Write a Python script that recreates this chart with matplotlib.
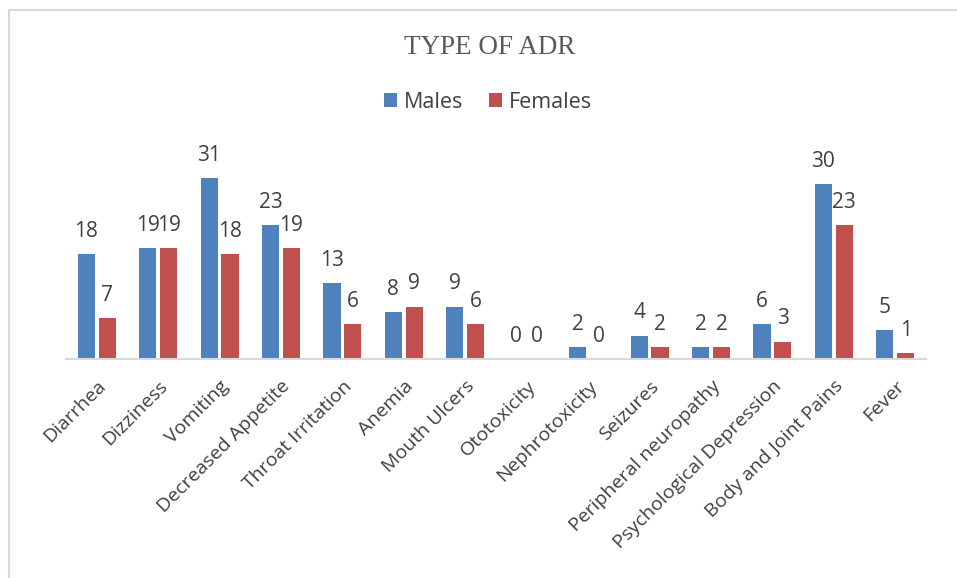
import matplotlib.pyplot as plt
import numpy as np
from matplotlib.lines import Line2D

categories = ["Diarrhea", "Dizziness", "Vomiting", "Decreased Appetite", "Throat Irritation",
              "Anemia", "Mouth Ulcers", "Ototoxicity", "Nephrotoxicity", "Seizures",
              "Peripheral neuropathy", "Psychological Depression", "Body and Joint Pains", "Fever"]
males = [18, 19, 31, 23, 13, 8, 9, 0, 2, 4, 2, 6, 30, 5]
females = [7, 19, 18, 19, 6, 9, 6, 0, 0, 2, 2, 3, 23, 1]

blue = "#4F81BD"
red = "#C0504D"
txt = "#404040"
font = ["Open Sans", "DejaVu Sans"]

fig = plt.figure(figsize=(9.57, 5.78), dpi=100)
ax = fig.add_axes([66/957, 1-359/578, 860/957, 204/578])

x = np.arange(len(categories))
w = 0.28
off = 0.17
b1 = ax.bar(x - off, males, w, color=blue, label="Males")
b2 = ax.bar(x + off, females, w, color=red, label="Females")

for rects, vals in ((b1, males), (b2, females)):
    for r, v in zip(rects, vals):
        ax.text(r.get_x() + r.get_width()/2, v + 2.1, str(v), ha="center", va="bottom",
                fontsize=15, color=txt, family=font)

ax.set_xlim(-0.5, len(categories) - 0.5)
ax.set_ylim(0, 35)
ax.set_yticks([])
for s in ("top", "right", "left"):
    ax.spines[s].set_visible(False)
ax.spines["bottom"].set_color("#D9D9D9")
ax.spines["bottom"].set_linewidth(1.5)
ax.set_xticks(x)
ax.set_xticklabels(categories, rotation=45, ha="right", rotation_mode="anchor",
                   fontsize=14, color=txt, family=font)
ax.tick_params(axis="x", length=0, pad=13)

fig.text(490/957, 1-47/578, "TYPE OF ADR", ha="center", va="center",
         fontsize=19.5, color="#595959", family="Liberation Serif")

leg = fig.legend(handles=[b1, b2], labels=["Males", "Females"], loc="center",
                 bbox_to_anchor=(488/957, 1-102/578), ncol=2, frameon=False,
                 handlelength=0.6, handleheight=0.6, handletextpad=0.3,
                 columnspacing=1.2, prop={"family": font, "size": 15.5})
for t in leg.get_texts():
    t.set_color(txt)

# partial border (left and top visible)
fig.add_artist(Line2D([9/957, 9/957], [0, 1-10/578], transform=fig.transFigure,
                      color="#D9D9D9", lw=1.5))
fig.add_artist(Line2D([9/957, 1], [1-10/578, 1-10/578], transform=fig.transFigure,
                      color="#D9D9D9", lw=1.5))

fig.savefig("out.png", dpi=100)
